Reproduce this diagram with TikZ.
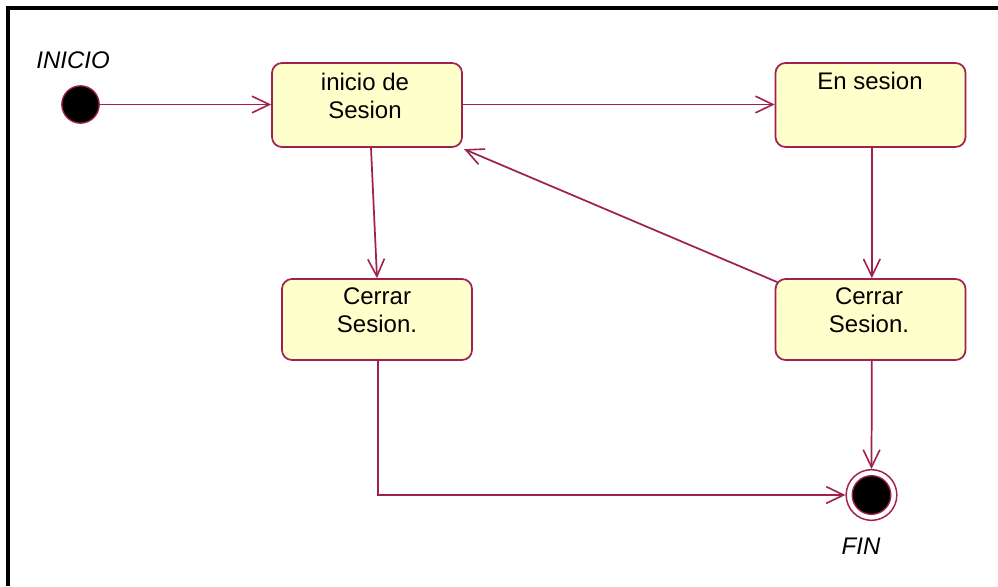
\documentclass[tikz,border=0pt]{standalone}
\usepackage{fontspec}
\setmainfont{Liberation Sans}
\usetikzlibrary{arrows.meta}
\definecolor{umlline}{RGB}{160,32,78}
\definecolor{umlfill}{RGB}{255,255,204}
\tikzset{
  state/.style={draw=umlline, fill=umlfill, line width=1.3pt, rounded corners=7.5pt,
    rectangle, minimum width=142.5pt, inner sep=0pt},
  statetext/.style={anchor=north, inner sep=0pt, align=center,
    font=\fontsize{18}{21.5}\selectfont},
  tag/.style={anchor=base, inner sep=0pt, font=\fontsize{18}{21.5}\selectfont\itshape},
  trans/.style={draw=umlline, line width=1.3pt,
    -{Straight Barb[length=13pt,width=12.5pt,line width=1.2pt]}},
  frameline/.style={line width=3pt, black}
}
\begin{document}
\begin{tikzpicture}[x=0.75pt, y=-0.75pt]
  \useasboundingbox (0,0) rectangle (998,586);
  % window frame (top and left edges)
  \draw[frameline] (6,8) -- (998,8);
  \draw[frameline] (8,6) -- (8,586);

  % initial and final pseudo-states
  \node (ini) [circle, draw=umlline, fill=black, line width=1pt, minimum size=28pt, inner sep=0pt] at (80.5,104.5) {};
  \node (fin) [circle, draw=umlline, fill=white, line width=1.1pt, minimum size=38pt, inner sep=0pt] at (871.5,495) {};
  \node (findot) [circle, draw=umlline, fill=black, line width=1pt, minimum size=29pt, inner sep=0pt] at (871.5,495) {};
  \node (lblini) [tag] at (73,68) {INICIO};
  \node (lblfin) [tag] at (861,554) {FIN};

  % states
  \node (inicio)  [state, minimum height=63pt]    at (367,105) {};
  \node (ensesion)[state, minimum height=63pt]    at (870.5,105) {};
  \node (cerrarL) [state, minimum height=60.75pt] at (377,319.5) {};
  \node (cerrarR) [state, minimum height=60.75pt] at (870.5,319.5) {};

  \node (t1) [statetext] at (365,72.5) {inicio de\\Sesion};
  \node (t2) [statetext] at (870,72)   {En sesion};
  \node (t3) [statetext] at (377,287)  {Cerrar\\Sesion.};
  \node (t4) [statetext] at (869,287)  {Cerrar\\Sesion.};

  % transitions
  \draw[trans] (ini) -- (inicio.west |- ini);
  \draw[trans] (inicio.east |- ini) -- (ensesion.west |- ini);
  \draw[trans] ([xshift=3pt]inicio.south) -- (cerrarL.north);
  \draw[trans] ([xshift=1pt]ensesion.south) -- ([xshift=1pt]cerrarR.north);
  \draw[trans] ([xshift=2pt,yshift=-3pt]cerrarR.north west) -- ([xshift=1pt,yshift=-1pt]inicio.south east);
  \draw[trans] ([xshift=1pt]cerrarL.south) |- (fin.west);
  \draw[trans] ([xshift=1pt]cerrarR.south) -- (fin.north);
\end{tikzpicture}
\end{document}
